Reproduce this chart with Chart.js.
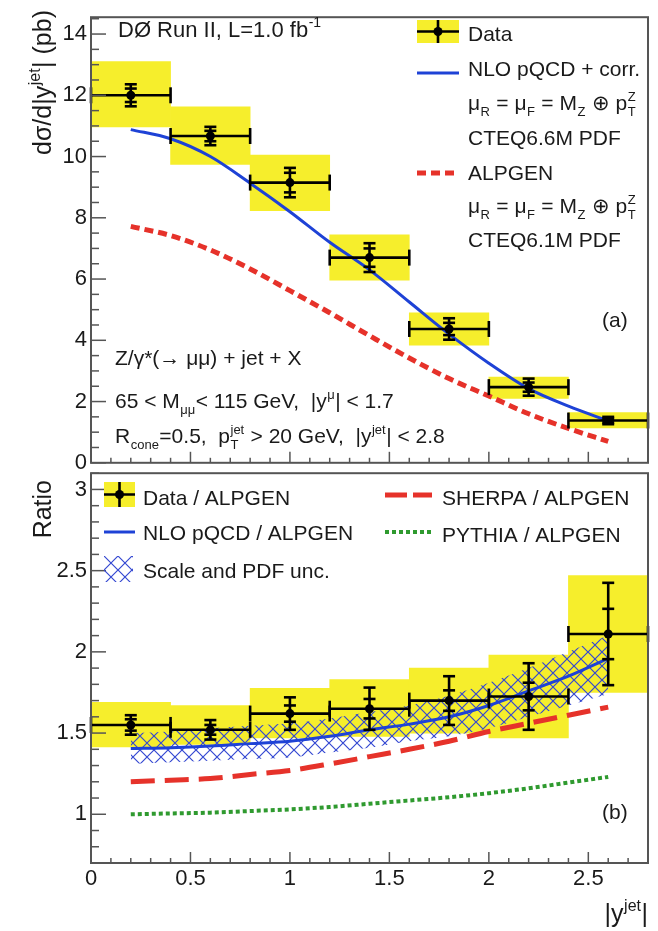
<!DOCTYPE html>
<html><head><meta charset="utf-8">
<script src="https://cdn.jsdelivr.net/npm/chart.js@4/dist/chart.umd.min.js"></script>
<style>
html,body{margin:0;padding:0;background:#fff;width:658px;height:931px;overflow:hidden}
canvas{position:absolute;left:0}
#c1{top:0}
#c2{top:456px}
</style></head><body>
<canvas id="c2" width="658" height="475"></canvas>
<canvas id="c1" width="658" height="480"></canvas>
<script>
// ---------------- data ----------------
const binCenters = [0.2, 0.6, 1.0, 1.4, 1.8, 2.2, 2.6];
const binHalfWidth = 0.2;

// top panel: dsigma/d|y| (pb)
const dataXS      = [12.0, 10.67, 9.15, 6.70, 4.37, 2.47, 1.38];
const dataXSStat  = [0.22, 0.17, 0.32, 0.30, 0.20, 0.15, 0.06];
const dataXSTot   = [0.36, 0.30, 0.48, 0.47, 0.35, 0.28, 0.12];
const dataXSSystLo = [10.97, 9.74, 8.23, 5.96, 3.84, 2.10, 1.14];
const dataXSSystHi = [13.10, 11.62, 10.05, 7.44, 4.90, 2.80, 1.64];

const curveX    = [0.2, 0.4, 0.6, 0.8, 1.0, 1.2, 1.4, 1.6, 1.8, 2.0, 2.2, 2.4, 2.6];
const nloXS     = [10.88, 10.58, 10.0, 9.13, 8.2, 7.2, 6.3, 5.25, 4.2, 3.25, 2.42, 1.85, 1.37];
const alpgenXS  = [7.72, 7.42, 6.95, 6.33, 5.62, 4.9, 4.15, 3.42, 2.75, 2.18, 1.6, 1.12, 0.70];

// bottom panel: ratios to ALPGEN
const ratioData    = [1.55, 1.52, 1.62, 1.65, 1.70, 1.725, 2.11];
const ratioStat    = [0.035, 0.03, 0.05, 0.06, 0.063, 0.085, 0.155];
const ratioTot     = [0.06, 0.06, 0.10, 0.13, 0.15, 0.205, 0.315];
const ratioSystLo  = [1.415, 1.43, 1.47, 1.48, 1.50, 1.47, 1.75];
const ratioSystHi  = [1.69, 1.67, 1.775, 1.83, 1.90, 1.98, 2.47];

const nloRatio     = [1.405, 1.41, 1.42, 1.435, 1.45, 1.48, 1.52, 1.555, 1.60, 1.67, 1.76, 1.85, 1.96];
const nloRatioUp   = [1.50, 1.51, 1.53, 1.545, 1.56, 1.59, 1.63, 1.67, 1.73, 1.81, 1.90, 2.00, 2.10];
const nloRatioDown = [1.31, 1.32, 1.33, 1.34, 1.35, 1.38, 1.41, 1.45, 1.48, 1.53, 1.60, 1.67, 1.74];
const sherpaRatio  = [1.20, 1.21, 1.22, 1.245, 1.27, 1.31, 1.355, 1.40, 1.45, 1.51, 1.56, 1.61, 1.66];
const pythiaRatio  = [1.00, 1.005, 1.01, 1.02, 1.03, 1.045, 1.065, 1.085, 1.105, 1.13, 1.16, 1.195, 1.23];

// tick labels
const xTickValues     = [0, 0.5, 1, 1.5, 2, 2.5];
const xsTickValues    = [0, 2, 4, 6, 8, 10, 12, 14];
const ratioTickValues = [1, 1.5, 2, 2.5, 3];

// ---------------- styles ----------------
const FONT = "'Liberation Sans', Arial, Helvetica, sans-serif";
const YELLOW = '#f6ee2c', BLUE = '#1e42d6', RED = '#e6322a', GREEN = '#2f9a2f', FRAME = '#555';
Chart.defaults.font.family = FONT;
Chart.defaults.font.size = 22;
Chart.defaults.color = '#1a1a1a';

const pts = (xs, ys) => xs.map((x, i) => ({x, y: ys[i]}));
const boxes = (xs, lo, hi) => xs.map((x, i) => ({x, y: [lo[i], hi[i]]}));

// ---------------- helpers ----------------
function segWidth(ctx, segs, size) {
  let w = 0;
  for (const s of segs) {
    if (typeof s === 'string') { ctx.font = size + 'px ' + FONT; w += ctx.measureText(s).width; }
    else {
      ctx.font = Math.round(size * 0.62) + 'px ' + FONT;
      w += Math.max(s.sub ? ctx.measureText(s.sub).width : 0, s.sup ? ctx.measureText(s.sup).width : 0) + 1;
    }
  }
  return w;
}
function drawSegs(ctx, x, y, segs, size) {
  let cx = x;
  ctx.textBaseline = 'alphabetic'; ctx.textAlign = 'left';
  for (const s of segs) {
    if (typeof s === 'string') {
      ctx.font = size + 'px ' + FONT; ctx.fillText(s, cx, y); cx += ctx.measureText(s).width;
    } else {
      const ss = Math.round(size * 0.62);
      ctx.font = ss + 'px ' + FONT;
      let w = 0;
      if (s.sub) { ctx.fillText(s.sub, cx + 0.5, y + size * 0.3); w = Math.max(w, ctx.measureText(s.sub).width); }
      if (s.sup) { ctx.fillText(s.sup, cx + 0.5, y - size * 0.45); w = Math.max(w, ctx.measureText(s.sup).width); }
      cx += w + 1;
    }
  }
}
function makeHatch(ctx) {
  const n = 14;
  const c = document.createElement('canvas'); c.width = n; c.height = n;
  const g = c.getContext('2d');
  g.strokeStyle = '#3448d2'; g.lineWidth = 1.2;
  g.beginPath(); g.moveTo(-1, -1); g.lineTo(n + 1, n + 1); g.moveTo(n + 1, -1); g.lineTo(-1, n + 1); g.stroke();
  return ctx.createPattern(c, 'repeat');
}

// ---------------- plugins ----------------
const errBars = {
  id: 'errbars',
  afterDatasetsDraw(chart, args, o) {
    const {ctx} = chart; const xs = chart.scales.x, ys = chart.scales.y;
    ctx.save(); ctx.strokeStyle = '#000'; ctx.lineWidth = 2.6;
    const L = (a, b, c, d) => { ctx.beginPath(); ctx.moveTo(a, b); ctx.lineTo(c, d); ctx.stroke(); };
    o.x.forEach((xv, i) => {
      const px = xs.getPixelForValue(xv), py = ys.getPixelForValue(o.y[i]);
      const pl = xs.getPixelForValue(xv - o.hw), pr = xs.getPixelForValue(xv + o.hw);
      const pt = ys.getPixelForValue(o.y[i] + o.tot[i]), pb = ys.getPixelForValue(o.y[i] - o.tot[i]);
      const st = ys.getPixelForValue(o.y[i] + o.stat[i]), sb = ys.getPixelForValue(o.y[i] - o.stat[i]);
      L(pl, py, pr, py); L(pl, py - 8, pl, py + 8); L(pr, py - 8, pr, py + 8);
      L(px, pt, px, pb);
      L(px - 6, pt, px + 6, pt); L(px - 6, pb, px + 6, pb);
      L(px - 6, st, px + 6, st); L(px - 6, sb, px + 6, sb);
    });
    ctx.restore();
  }
};
const rootFrame = {
  id: 'rootFrame',
  afterDatasetsDraw(chart, args, o) {
    const {ctx, chartArea: a} = chart; const xs = chart.scales.x, ys = chart.scales.y;
    ctx.save(); ctx.strokeStyle = FRAME; ctx.lineWidth = 1.5;
    const L = (p, q, r, s) => { ctx.beginPath(); ctx.moveTo(p, q); ctx.lineTo(r, s); ctx.stroke(); };
    for (let i = Math.ceil(ys.min / o.yMinor - 1e-6); i * o.yMinor <= ys.max + 1e-9; i++) {
      const v = i * o.yMinor; const r = v / o.yMajor; const major = Math.abs(r - Math.round(r)) < 1e-6;
      const py = ys.getPixelForValue(v);
      L(a.left, py, a.left + (major ? 15 : 8), py);
    }
    for (let i = Math.ceil(xs.min / o.xMinor - 1e-6); i * o.xMinor <= xs.max + 1e-9; i++) {
      const v = i * o.xMinor; const r = v / o.xMajor; const major = Math.abs(r - Math.round(r)) < 1e-6;
      const px = xs.getPixelForValue(v);
      L(px, a.bottom, px, a.bottom - (major ? 11 : 5));
    }
    ctx.lineWidth = 2;
    ctx.strokeRect(a.left, a.top, a.right - a.left, a.bottom - a.top);
    ctx.restore();
  }
};
const rootText = {
  id: 'rootText',
  afterDraw(chart, args, o) {
    const {ctx} = chart; const off = o.offsetY || 0;
    ctx.save();
    (o.symbols || []).forEach(s => {
      const y = (v) => v - off;
      if (s.kind === 'data') {
        ctx.fillStyle = YELLOW; ctx.fillRect(s.x1, y(s.y1), s.x2 - s.x1, s.y2 - s.y1);
        ctx.strokeStyle = '#000'; ctx.lineWidth = 2.6;
        const cy = y((s.y1 + s.y2) / 2), cx = (s.x1 + s.x2) / 2;
        ctx.beginPath(); ctx.moveTo(s.x1, cy); ctx.lineTo(s.x2, cy); ctx.moveTo(cx, y(s.y1)); ctx.lineTo(cx, y(s.y2)); ctx.stroke();
        ctx.fillStyle = '#000'; ctx.beginPath(); ctx.arc(cx, cy, 4.5, 0, Math.PI * 2); ctx.fill();
      } else if (s.kind === 'line') {
        ctx.strokeStyle = s.color; ctx.lineWidth = s.width; ctx.setLineDash(s.dash || []);
        ctx.beginPath(); ctx.moveTo(s.x1, y(s.y)); ctx.lineTo(s.x2, y(s.y)); ctx.stroke(); ctx.setLineDash([]);
      } else if (s.kind === 'hatch') {
        ctx.fillStyle = s.pattern; ctx.save(); ctx.translate(s.x1, y(s.y1));
        ctx.fillRect(0, 0, s.x2 - s.x1, s.y2 - s.y1); ctx.restore();
      }
    });
    ctx.fillStyle = '#1a1a1a';
    (o.texts || []).forEach(t => {
      const size = t.size || 21;
      if (t.rot) {
        const w = segWidth(ctx, t.segs, size);
        ctx.save(); ctx.translate(t.x, t.y - off); ctx.rotate(-Math.PI / 2);
        drawSegs(ctx, -w, 0, t.segs, size); ctx.restore();
      } else {
        let x = t.x;
        if (t.align === 'right') x -= segWidth(ctx, t.segs, size);
        drawSegs(ctx, x, t.y - off, t.segs, size);
      }
    });
    ctx.restore();
  }
};

const muLine = ['μ', {sub: 'R'}, ' = μ', {sub: 'F'}, ' = M', {sub: 'Z'}, ' ⊕ p', {sub: 'T', sup: 'Z'}];

// ---------------- top chart ----------------
const ctx1 = document.getElementById('c1').getContext('2d');
new Chart(ctx1, {
  type: 'line',
  data: {
    datasets: [
      {type: 'scatter', label: 'Data', data: pts(binCenters, dataXS), pointRadius: 4.5, pointBackgroundColor: '#000', pointBorderWidth: 0, showLine: false, order: 0},
      {type: 'line', label: 'NLO pQCD + corr.', data: pts(curveX, nloXS), borderColor: BLUE, borderWidth: 3, pointRadius: 0, fill: false, cubicInterpolationMode: 'monotone', order: 5},
      {type: 'line', label: 'ALPGEN', data: pts(curveX, alpgenXS), borderColor: RED, borderWidth: 5, borderDash: [9, 5], pointRadius: 0, fill: false, cubicInterpolationMode: 'monotone', order: 6},
      {type: 'bar', label: 'Data syst.', data: boxes(binCenters, dataXSSystLo, dataXSSystHi), backgroundColor: YELLOW, borderWidth: 0, categoryPercentage: 1, barPercentage: 1, grouped: false, order: 10}
    ]
  },
  options: {
    responsive: false, animation: false, devicePixelRatio: 1,
    layout: {padding: {top: 8, right: 10, bottom: 14, left: 0}},
    plugins: {
      legend: {display: false}, tooltip: {enabled: false},
      errbars: {x: binCenters, y: dataXS, stat: dataXSStat, tot: dataXSTot, hw: binHalfWidth},
      rootFrame: {yMinor: 0.5, yMajor: 2, xMinor: 0.1, xMajor: 0.5},
      rootText: {
        offsetY: 0,
        symbols: [
          {kind: 'data', x1: 417, x2: 459, y1: 20, y2: 43},
          {kind: 'line', x1: 417, x2: 459, y: 73, color: BLUE, width: 3},
          {kind: 'line', x1: 417, x2: 459, y: 173, color: RED, width: 5, dash: [9, 5]}
        ],
        texts: [
          {x: 118, y: 37, size: 22, segs: ['DØ Run II, L=1.0 fb', {sup: '-1'}]},
          {x: 115, y: 365, segs: ['Z/γ*(→ μμ) + jet + X']},
          {x: 115, y: 408, segs: ['65 < M', {sub: 'μμ'}, '< 115 GeV,  |y', {sup: 'μ'}, '| < 1.7']},
          {x: 115, y: 443, segs: ['R', {sub: 'cone'}, '=0.5,  p', {sub: 'T', sup: 'jet'}, ' > 20 GeV,  |y', {sup: 'jet'}, '| < 2.8']},
          {x: 602, y: 327, segs: ['(a)']},
          {x: 468, y: 41, segs: ['Data']},
          {x: 468, y: 76, segs: ['NLO pQCD + corr.']},
          {x: 468, y: 110, segs: muLine},
          {x: 468, y: 145, segs: ['CTEQ6.6M PDF']},
          {x: 468, y: 180, segs: ['ALPGEN']},
          {x: 468, y: 213, segs: muLine},
          {x: 468, y: 247, segs: ['CTEQ6.1M PDF']},
          {x: 51, y: 10, rot: true, size: 25, segs: ['dσ/d|y', {sup: 'jet'}, '| (pb)']}
        ]
      }
    },
    scales: {
      x: {type: 'linear', min: 0, max: 2.8, offset: false, grid: {display: false, drawTicks: false, offset: false}, border: {display: false},
          ticks: {display: false}, afterBuildTicks: s => { s.ticks = xTickValues.map(v => ({value: v})); }, afterFit: s => { s.height = 0; }},
      y: {type: 'linear', min: 0, max: 14.55, grid: {display: false, drawTicks: false}, border: {display: false},
          ticks: {padding: 4, callback: v => String(v)},
          afterBuildTicks: s => { s.ticks = xsTickValues.map(v => ({value: v})); }, afterFit: s => { s.width = 91; }}
    }
  },
  plugins: [errBars, rootFrame, rootText]
});

// ---------------- bottom chart ----------------
const ctx2 = document.getElementById('c2').getContext('2d');
const hatch = makeHatch(ctx2);
new Chart(ctx2, {
  type: 'line',
  data: {
    datasets: [
      {type: 'scatter', label: 'Data / ALPGEN', data: pts(binCenters, ratioData), pointRadius: 4.5, pointBackgroundColor: '#000', pointBorderWidth: 0, showLine: false, order: 0},
      {type: 'line', label: 'NLO pQCD / ALPGEN', data: pts(curveX, nloRatio), borderColor: BLUE, borderWidth: 3, pointRadius: 0, fill: false, cubicInterpolationMode: 'monotone', order: 4},
      {type: 'line', label: 'SHERPA / ALPGEN', data: pts(curveX, sherpaRatio), borderColor: RED, borderWidth: 5, borderDash: [24, 10], pointRadius: 0, fill: false, cubicInterpolationMode: 'monotone', order: 5},
      {type: 'line', label: 'PYTHIA / ALPGEN', data: pts(curveX, pythiaRatio), borderColor: GREEN, borderWidth: 4, borderDash: [4, 3], pointRadius: 0, fill: false, cubicInterpolationMode: 'monotone', order: 5},
      {type: 'line', label: 'Scale and PDF unc.', data: pts(curveX, nloRatioUp), borderColor: 'rgba(0,0,0,0)', borderWidth: 1, backgroundColor: hatch, pointRadius: 0, fill: '+1', cubicInterpolationMode: 'monotone', order: 8},
      {type: 'line', label: 'unc. low', data: pts(curveX, nloRatioDown), borderColor: 'rgba(0,0,0,0)', borderWidth: 1, pointRadius: 0, fill: false, cubicInterpolationMode: 'monotone', order: 8},
      {type: 'bar', label: 'Data syst.', data: boxes(binCenters, ratioSystLo, ratioSystHi), backgroundColor: YELLOW, borderWidth: 0, categoryPercentage: 1, barPercentage: 1, grouped: false, order: 10}
    ]
  },
  options: {
    responsive: false, animation: false, devicePixelRatio: 1,
    layout: {padding: {top: 10, right: 10, bottom: 0, left: 0}},
    plugins: {
      legend: {display: false}, tooltip: {enabled: false},
      errbars: {x: binCenters, y: ratioData, stat: ratioStat, tot: ratioTot, hw: binHalfWidth},
      rootFrame: {yMinor: 0.1, yMajor: 0.5, xMinor: 0.1, xMajor: 0.5},
      rootText: {
        offsetY: 456,
        symbols: [
          {kind: 'data', x1: 104, x2: 135, y1: 482, y2: 507},
          {kind: 'line', x1: 104, x2: 135, y: 532, color: BLUE, width: 3},
          {kind: 'hatch', x1: 104, x2: 133, y1: 556, y2: 582, pattern: hatch},
          {kind: 'line', x1: 385, x2: 432, y: 495, color: RED, width: 5, dash: [22, 6]},
          {kind: 'line', x1: 385, x2: 431, y: 532, color: GREEN, width: 4, dash: [4, 3]}
        ],
        texts: [
          {x: 143, y: 505, segs: ['Data / ALPGEN']},
          {x: 143, y: 540, segs: ['NLO pQCD / ALPGEN']},
          {x: 143, y: 578, segs: ['Scale and PDF unc.']},
          {x: 442, y: 505, segs: ['SHERPA / ALPGEN']},
          {x: 442, y: 542, segs: ['PYTHIA / ALPGEN']},
          {x: 602, y: 819, segs: ['(b)']},
          {x: 51, y: 480, rot: true, size: 25, segs: ['Ratio']},
          {x: 648, y: 922, align: 'right', size: 25, segs: ['|y', {sup: 'jet'}, '|']}
        ]
      }
    },
    scales: {
      x: {type: 'linear', min: 0, max: 2.8, offset: false, grid: {display: false, drawTicks: false, offset: false}, border: {display: false},
          ticks: {padding: 3, callback: v => String(v), maxRotation: 0},
          afterBuildTicks: s => { s.ticks = xTickValues.map(v => ({value: v})); }, afterFit: s => { s.height = 68; }},
      y: {type: 'linear', min: 0.7, max: 3.1, grid: {display: false, drawTicks: false}, border: {display: false},
          ticks: {padding: 4, callback: v => String(v)},
          afterBuildTicks: s => { s.ticks = ratioTickValues.map(v => ({value: v})); }, afterFit: s => { s.width = 91; }}
    }
  },
  plugins: [errBars, rootFrame, rootText]
});
</script>
</body></html>
